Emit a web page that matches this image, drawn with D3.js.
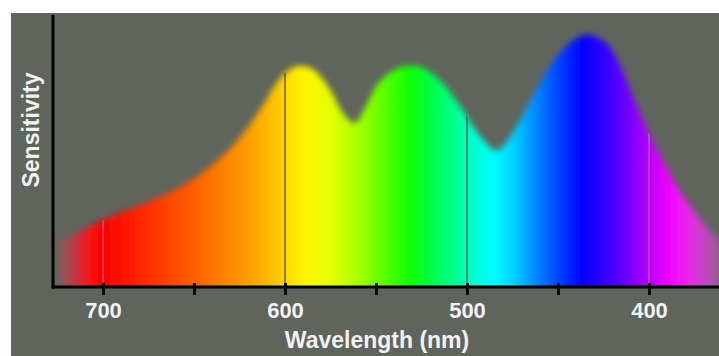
<!DOCTYPE html>
<html>
<head>
<meta charset="utf-8">
<script src="https://cdn.jsdelivr.net/npm/d3@7"></script>
<style>
html,body{margin:0;padding:0;background:#fff;}
svg{display:block;}
text{font-family:"Liberation Sans",Arial,sans-serif;font-weight:bold;}
</style>
</head>
<body>
<svg id="chart" width="719" height="356"></svg>
<script>
// ---- data ----
const wavelengths = [724, 711, 700, 674, 652, 630, 614, 605.5, 599, 592, 584, 575, 567, 561.5, 556, 548, 537, 526, 515, 504, 493, 483.5, 476, 465, 454, 443, 433.5, 424, 416, 408, 399.5, 391, 383, 372, 361];
const sensitivity = [18, 22.5, 26.5, 34, 42, 55, 70, 80, 85.5, 87.7, 86, 78, 68, 65, 71, 81.5, 87, 87.3, 82, 72, 60, 54, 60, 74, 88, 97, 100, 97, 88, 74, 60, 48, 38, 27, 18];
const tickValues = [700, 650, 600, 550, 500, 450, 400];
const tickLabels = ["700", "", "600", "", "500", "", "400"];
const markerLines = [700, 600, 500, 400];
const spectrumStops = [
  [728, "#7a6468", 0.25], [722, "#b04858", 0.6], [714, "#e02434", 0.85], [706, "#ff1010", 1],
  [700, "#ff0000", 1], [680, "#ff2400", 1], [660, "#ff4c00", 1], [640, "#ff7400", 1],
  [620, "#ff9c00", 1], [605, "#ffc400", 1], [600, "#ffd800", 1], [590, "#fff400", 1],
  [575, "#e4ff00", 1], [560, "#a8ff00", 1], [545, "#58ff00", 1], [532, "#10ff00", 1],
  [518, "#00ff50", 1], [505, "#00ff98", 1], [495, "#00ffd8", 1], [485, "#00ffff", 1],
  [475, "#00d4ff", 1], [465, "#0098ff", 1], [452, "#0050ff", 1], [437, "#0000ff", 1],
  [422, "#3c00ff", 1], [410, "#7c00ff", 1], [400, "#b400ff", 1], [390, "#f000ff", 1],
  [380, "#f020f0", 1], [370, "#d040d0", 0.9], [361, "#b05aa8", 0.75]
];

// ---- layout ----
const W = 719, H = 356;
const svg = d3.select("#chart");
const x = d3.scaleLinear().domain([700, 400]).range([103, 649]);
const y = d3.scaleLinear().domain([0, 100]).range([287, 35]);
const plotLeft = 53, plotBottom = 287;

// background
svg.append("rect").attr("x", 0).attr("y", 0).attr("width", W).attr("height", H).attr("fill", "#ffffff");
svg.append("rect").attr("x", 11).attr("y", 13).attr("width", W - 11).attr("height", H - 13).attr("fill", "#5f645d");

const defs = svg.append("defs");
const grad = defs.append("linearGradient").attr("id", "spec")
  .attr("gradientUnits", "userSpaceOnUse")
  .attr("x1", x(728)).attr("x2", x(361)).attr("y1", 0).attr("y2", 0);
const x0 = x(728), x1 = x(361);
spectrumStops.forEach(s => {
  grad.append("stop").attr("offset", (x(s[0]) - x0) / (x1 - x0))
    .attr("stop-color", s[1]).attr("stop-opacity", s[2]);
});
defs.append("filter").attr("id", "blur").attr("x", "-10%").attr("y", "-20%").attr("width", "120%").attr("height", "140%")
  .append("feGaussianBlur").attr("stdDeviation", 3.2);
defs.append("clipPath").attr("id", "plotClip").append("rect")
  .attr("x", plotLeft).attr("y", 0).attr("width", W - plotLeft).attr("height", plotBottom);

const pts = wavelengths.map((w, i) => [w, sensitivity[i]]);
const area = d3.area().x(d => x(d[0])).y0(y(0) + 10).y1(d => y(d[1])).curve(d3.curveCatmullRom);

defs.append("clipPath").attr("id", "areaClip").append("path").attr("d", area(pts));

svg.append("g").attr("clip-path", "url(#plotClip)")
  .append("path").attr("d", area(pts)).attr("fill", "url(#spec)").attr("filter", "url(#blur)");

// marker lines inside the spectrum
svg.append("g").attr("clip-path", "url(#areaClip)")
  .selectAll("line").data(markerLines).join("line")
  .attr("x1", d => x(d)).attr("x2", d => x(d))
  .attr("y1", 0).attr("y2", plotBottom)
  .attr("stroke", d => (d === 700 || d === 400) ? "#d0b8c8" : "#3a3a3a")
  .attr("stroke-opacity", d => (d === 700 || d === 400) ? 0.45 : 0.85)
  .attr("stroke-width", 1.3);

// axes lines
svg.append("line").attr("x1", plotLeft).attr("x2", plotLeft).attr("y1", 15).attr("y2", plotBottom + 1.5)
  .attr("stroke", "#000").attr("stroke-width", 3);
svg.append("line").attr("x1", plotLeft - 1.5).attr("x2", W).attr("y1", plotBottom).attr("y2", plotBottom)
  .attr("stroke", "#000").attr("stroke-width", 3);

const xAxis = d3.axisBottom(x).tickValues(tickValues)
  .tickFormat((d, i) => tickLabels[i]).tickSize(8).tickSizeOuter(0).tickPadding(7);
const gx = svg.append("g").attr("transform", `translate(0,${plotBottom})`).call(xAxis);
gx.select(".domain").remove();
gx.selectAll(".tick line").attr("stroke", "#0a0a14").attr("stroke-width", 3).attr("y1", -4);
gx.selectAll(".tick text").attr("fill", "#f2f2f2").attr("font-size", 22)
  .attr("font-family", "Liberation Sans, Arial, sans-serif").attr("font-weight", "bold");

// titles
svg.append("text").attr("x", 377).attr("y", 348).attr("text-anchor", "middle")
  .attr("fill", "#f2f2f2").attr("font-size", 23).text("Wavelength (nm)");
svg.append("text").attr("transform", "translate(39,130) rotate(-90)").attr("text-anchor", "middle")
  .attr("fill", "#f2f2f2").attr("font-size", 23).text("Sensitivity");
</script>
</body>
</html>
